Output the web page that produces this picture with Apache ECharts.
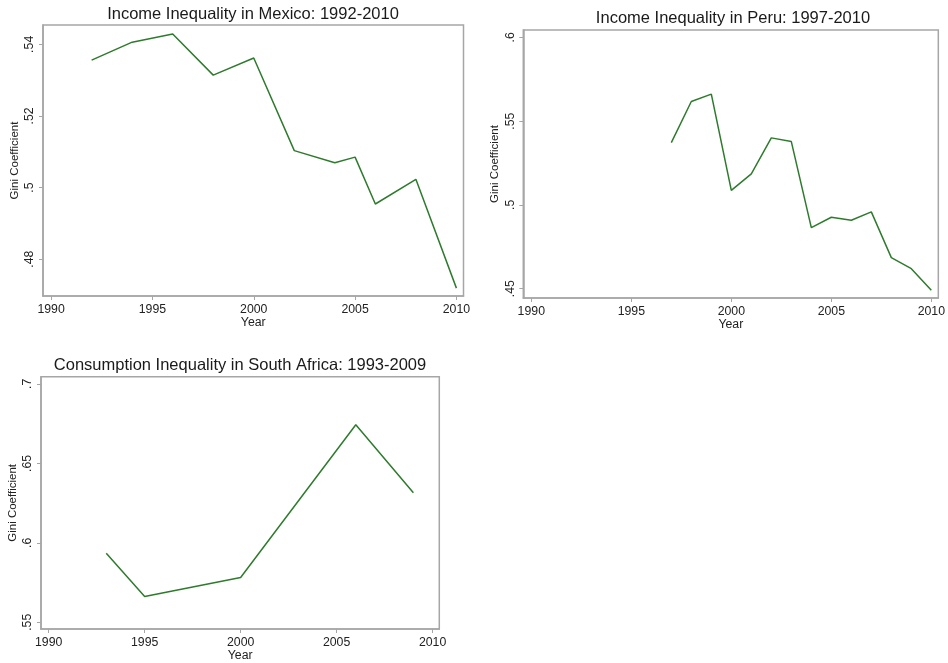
<!DOCTYPE html>
<html><head><meta charset="utf-8">
<script src="https://cdn.jsdelivr.net/npm/echarts@6/dist/echarts.min.js"></script>
<style>html,body{margin:0;padding:0;background:#fff}#c{width:948px;height:663px}</style>
</head><body><div id="c"></div>
<script>
const xTicks = [1990, 1995, 2000, 2005, 2010];

const mexicoYears = [1992, 1994, 1996, 1998, 2000, 2002, 2004, 2005, 2006, 2008, 2010];
const mexicoGini  = [0.5356, 0.5406, 0.5429, 0.5314, 0.5362, 0.5103, 0.5069, 0.5085, 0.4954, 0.5023, 0.4719];
const mexicoYTicks = [0.48, 0.5, 0.52, 0.54];

const peruYears = [1997, 1998, 1999, 2000, 2001, 2002, 2003, 2004, 2005, 2006, 2007, 2008, 2009, 2010];
const peruGini  = [0.5372, 0.5617, 0.5661, 0.5087, 0.5185, 0.5400, 0.5378, 0.4864, 0.4926, 0.4908, 0.4958, 0.4685, 0.4619, 0.4490];
const peruYTicks = [0.45, 0.5, 0.55, 0.6];

const saYears = [1993, 1995, 2000, 2006, 2009];
const saGini  = [0.5934, 0.5662, 0.5782, 0.6743, 0.6315];
const saYTicks = [0.55, 0.6, 0.65, 0.7];

const titles = [
  'Income Inequality in Mexico: 1992-2010',
  'Income Inequality in Peru: 1997-2010',
  'Consumption Inequality in South Africa: 1993-2009'
];

const FONT = 'Liberation Sans, Arial, sans-serif';
const GRAY = '#a6a6a6';
const GREEN = '#2e7b2e';

const panels = [
  {years: mexicoYears, vals: mexicoGini, yt: mexicoYTicks, ymin: 0.4697, ymax: 0.5454,
   grid: {left: 43, top: 25, width: 420.5, height: 271}, title: {x: 253, y: 5.5}},
  {years: peruYears, vals: peruGini, yt: peruYTicks, ymin: 0.4444, ymax: 0.6044,
   grid: {left: 523.3, top: 30, width: 419.4, height: 268}, title: {x: 733, y: 9.5}},
  {years: saYears, vals: saGini, yt: saYTicks, ymin: 0.5458, ymax: 0.7045,
   grid: {left: 41, top: 376.7, width: 398.3, height: 255}, title: {x: 240, y: 356.5}}
];

const fmtY = v => String(v).replace(/^0/, '');

const option = {
  animation: false,
  backgroundColor: '#fff',
  title: panels.map((p, i) => ({
    text: titles[i], left: p.title.x, top: p.title.y, textAlign: 'center', padding: 0,
    textStyle: {fontFamily: FONT, fontSize: 16.5, fontWeight: 'normal', color: '#1a1a1a'}
  })),
  grid: panels.map(p => Object.assign({show: true, borderColor: GRAY, borderWidth: 1.5, backgroundColor: '#fff'}, p.grid)),
  xAxis: panels.map((p, i) => ({
    type: 'value', gridIndex: i, min: 1989.6, max: 2010.35,
    name: 'Year', nameLocation: 'middle', nameGap: 21,
    nameTextStyle: {fontFamily: FONT, fontSize: 12.3, color: '#222'},
    splitLine: {show: false},
    axisLine: {show: true, lineStyle: {color: GRAY, width: 1.5}},
    axisTick: {show: true, length: 4, lineStyle: {color: GRAY}, customValues: xTicks},
    axisLabel: {fontFamily: FONT, fontSize: 12.3, color: '#222', margin: 8, customValues: xTicks,
      formatter: v => String(v)}
  })),
  yAxis: panels.map((p, i) => ({
    type: 'value', gridIndex: i, min: p.ymin, max: p.ymax,
    name: 'Gini Coefficient', nameLocation: 'middle', nameGap: 22, nameRotate: 90,
    nameTextStyle: {fontFamily: FONT, fontSize: 11.5, color: '#222'},
    splitLine: {show: false},
    axisLine: {show: true, lineStyle: {color: GRAY, width: 1.5}},
    axisTick: {show: true, length: 4, lineStyle: {color: GRAY}, customValues: p.yt},
    axisLabel: {fontFamily: FONT, fontSize: 12.3, color: '#222', margin: 7, rotate: 90,
      customValues: p.yt, formatter: fmtY}
  })),
  series: panels.map((p, i) => ({
    type: 'line', xAxisIndex: i, yAxisIndex: i, showSymbol: false, symbol: 'none',
    lineStyle: {color: GREEN, width: 1.5},
    data: p.years.map((y, k) => [y, p.vals[k]])
  }))
};

const chart = echarts.init(document.getElementById('c'), null, {renderer: 'canvas'});
chart.setOption(option);
</script></body></html>
